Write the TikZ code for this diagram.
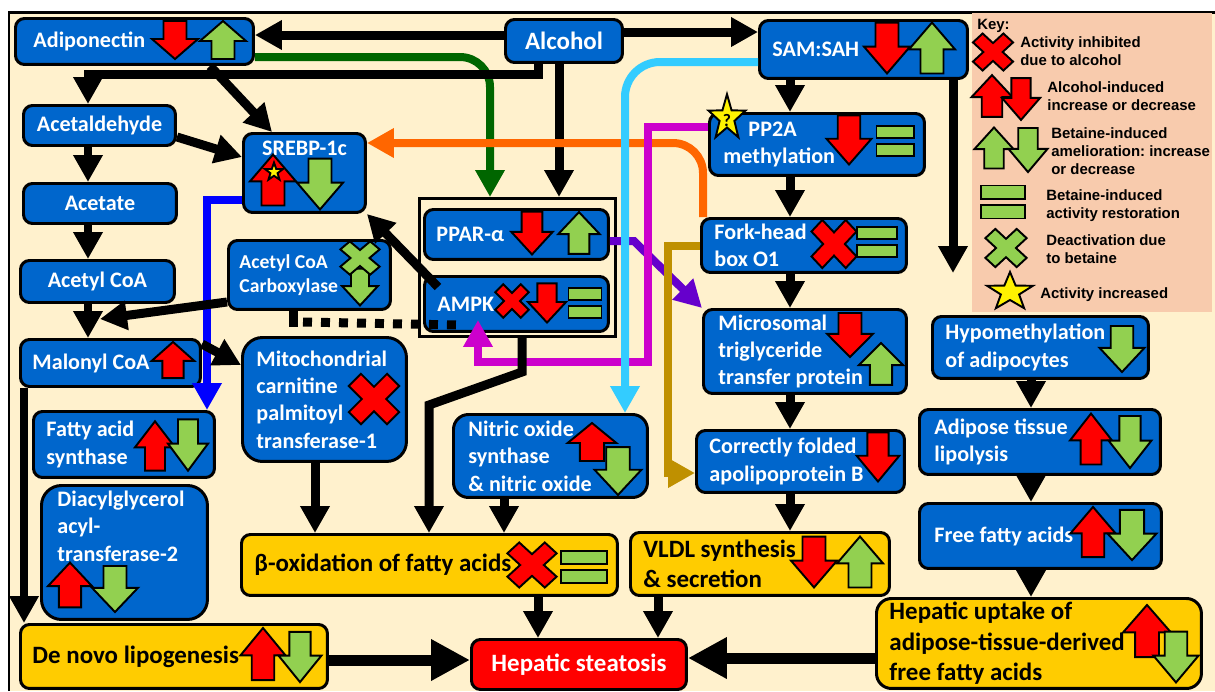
\documentclass[tikz,border=0pt]{standalone}
\usepackage{fontspec}
\usetikzlibrary{arrows.meta,calc}
\newfontfamily\carlito{Carlito}
\newfontfamily\keyface{Liberation Sans}
\frenchspacing
\newcommand\bluefnt{\carlito\bfseries\fontsize{12.6}{15.6}\selectfont}
\newcommand\bigfnt{\carlito\bfseries\fontsize{14.2}{17.4}\selectfont}
\newcommand\accfnt{\carlito\bfseries\fontsize{11.2}{13.6}\selectfont}
\newcommand\keyfnt{\keyface\bfseries\fontsize{8.5}{10.2}\selectfont\frenchspacing}
\definecolor{bgcream}{RGB}{255,241,205}
\definecolor{boxblue}{RGB}{0,102,204}
\definecolor{boxyellow}{RGB}{255,204,0}
\definecolor{keypeach}{RGB}{248,203,173}
\definecolor{ared}{RGB}{255,0,0}
\definecolor{agreen}{RGB}{146,208,80}
\definecolor{lnkgreen}{RGB}{0,102,0}
\definecolor{lnkorange}{RGB}{255,102,0}
\definecolor{lnkcyan}{RGB}{51,204,255}
\definecolor{lnkmagenta}{RGB}{204,0,204}
\definecolor{lnkpurple}{RGB}{102,0,204}
\definecolor{lnkgold}{RGB}{191,144,0}
\definecolor{lnkblue}{RGB}{0,0,255}
\tikzset{
  boxbase/.style={draw=black,line width=1.7pt,rounded corners=0.18cm,anchor=north west,inner ysep=0pt,align=flush left},
  bluebox/.style={boxbase,fill=boxblue,text=white,font=\bluefnt},
  yellowbox/.style={boxbase,fill=boxyellow,text=black,font=\bigfnt},
  redbox/.style={boxbase,fill=ared,text=white,font=\bigfnt},
  keytxt/.style={font=\keyfnt,anchor=west,align=flush left,inner sep=0pt},
  icon/.style={draw=black,line width=1.1pt},
  link/.style={line width=0.18cm,-{Triangle[length=0.54cm,width=0.56cm]}},
  biglink/.style={line width=0.22cm,-{Triangle[length=0.78cm,width=0.78cm]}},
  clink/.style={line width=0.16cm,-{Triangle[length=0.54cm,width=0.56cm]}},
  dotline/.style={line width=0.18cm,dash pattern=on 0.18cm off 0.18cm},
  pics/uparr/.style={code={\draw[icon,fill=#1] (-11.5,19) -- (-11.5,1) -- (-23,1) -- (0,-19) -- (23,1) -- (11.5,1) -- (11.5,19) -- cycle;}},
  pics/dnarr/.style={code={\draw[icon,fill=#1] (-11.5,-19) -- (-11.5,-1) -- (-23,-1) -- (0,19) -- (23,-1) -- (11.5,-1) -- (11.5,-19) -- cycle;}},
  pics/xmark/.style={code={\draw[icon,fill=#1,rotate=45] (-6.5,-20.5) -- (6.5,-20.5) -- (6.5,-6.5) -- (20.5,-6.5) -- (20.5,6.5) -- (6.5,6.5) -- (6.5,20.5) -- (-6.5,20.5) -- (-6.5,6.5) -- (-20.5,6.5) -- (-20.5,-6.5) -- (-6.5,-6.5) -- cycle;}},
  pics/eqbar/.style={code={\draw[icon,fill=agreen] (-17,-13) rectangle (17,-2.5);
    \draw[icon,fill=agreen] (-17,2.5) rectangle (17,13);}},
  pics/starmark/.style={code={\draw[icon,fill=yellow] (-90:20) \foreach \k in {1,...,9} {-- ({-90+36*\k}:{8+12*mod(\k+1,2)})} -- cycle;}}
}
\begin{document}
\begin{tikzpicture}[x=0.02cm,y=-0.02cm]
	\useasboundingbox (0,0) rectangle (1215,691);
	% background and frame
	\fill[bgcream] (9,12) rectangle (1215,691);
	\draw[line width=0.06cm] (9,691) -- (9,12) -- (1215,12);

	% key
	\node[fill=keypeach,minimum width=4.8cm,minimum height=5.98cm,anchor=north west,inner sep=0pt] (keybox) at (972,13) {};
	\node[keytxt] (keyhead) at (977,26) {Key:};
	\node[keytxt] (keyx) at (1020,51) {Activity inhibited\\due to alcohol};
	\node[keytxt] (keyalc) at (1047,96) {Alcohol-induced\\increase or decrease};
	\node[keytxt] (keybet) at (1051,151) {Betaine-induced\\amelioration: increase\\or decrease};
	\node[keytxt] (keyeq) at (1046,206) {Betaine-induced\\activity restoration};
	\node[keytxt] (keydeact) at (1046,249) {Deactivation due\\to betaine};
	\node[keytxt] (keystar) at (1040,295) {Activity increased};
	\pic[xscale=1.05,yscale=0.97] at (993,52) {xmark=ared};
	\pic[xscale=0.89,yscale=1.1] at (992,96) {uparr=ared};
	\pic[xscale=0.83,yscale=1.1] at (1021,99) {dnarr=ared};
	\pic[xscale=0.85,yscale=1.08] at (994,148) {uparr=agreen};
	\pic[xscale=0.85,yscale=1.16] at (1028,150) {dnarr=agreen};
	\pic[xscale=1.32,yscale=1.27] at (1003,202) {eqbar};
	\pic[xscale=1.08] at (1006,248) {xmark=agreen};
	\pic[xscale=1.2] at (1010,292) {starmark};

	% top row
	\node[bluebox,minimum width=4.76cm,minimum height=0.92cm,inner xsep=0.36cm,text width=4.04cm] (adipo) at (14,17) {Adiponectin};
	\node[bluebox,font=\bigfnt,minimum width=2.34cm,minimum height=0.86cm] (alcohol) at (504,18) {Alcohol};
	\node[bluebox,minimum width=4.16cm,minimum height=1.16cm,inner xsep=0.26cm,text width=3.64cm] (samsah) at (758,19) {SAM:SAH};
	\pic at (175,40) {dnarr=ared};
	\pic at (223,40) {uparr=agreen};
	\pic[yscale=1.34] at (887,48) {dnarr=ared};
	\pic[yscale=1.34] at (932,48) {uparr=agreen};

	% left column
	\node[bluebox,minimum width=3.04cm,minimum height=0.8cm] (acetald) at (22,104) {Acetaldehyde};
	\node[bluebox,minimum width=3.06cm,minimum height=0.8cm] (acetate) at (22,182) {Acetate};
	\node[bluebox,minimum width=3.08cm,minimum height=0.84cm] (acetylcoa) at (19,259) {Acetyl CoA};
	\node[bluebox,minimum width=3.6cm,minimum height=0.94cm,inner xsep=0.24cm,text width=3.12cm] (malonyl) at (19,338) {Malonyl CoA};
	\node[bluebox,minimum width=3.62cm,minimum height=1.32cm,inner xsep=0.26cm,text width=3.1cm] (fas) at (32,410) {Fatty acid\\synthase};
	\node[bluebox,rounded corners=0.4cm,minimum width=3.32cm,minimum height=2.68cm,inner xsep=0.32cm,text width=2.68cm,text height=0.34cm,text depth=2.18cm] (dgat) at (40,484) {Diacylglycerol\\acyl-\\transferase-2};
	\node[yellowbox,minimum width=6.14cm,minimum height=1.28cm,inner xsep=0.24cm,text width=5.66cm] (denovo) at (19,623) {De novo lipogenesis};
	\pic[xscale=0.93,yscale=0.95] at (173,360) {uparr=ared};
	\pic[xscale=0.87,yscale=1.3] at (155,446) {uparr=ared};
	\pic[xscale=0.87,yscale=1.35] at (188,445) {dnarr=agreen};
	\pic[xscale=0.96,yscale=1.18] at (70,585) {uparr=ared};
	\pic[yscale=1.21] at (115,589) {dnarr=agreen};
	\pic[xscale=0.98,yscale=1.37] at (263,654) {uparr=ared};
	\pic[xscale=0.93,yscale=1.32] at (300,657) {dnarr=agreen};

	% middle
	\node[bluebox,minimum width=2.44cm,minimum height=1.58cm,text height=0.34cm,text depth=1.04cm] (srebp) at (242,132) {SREBP-1c};
	\pic[yscale=1.34] at (273,180) {uparr=ared};
	\pic[scale=0.47] at (274,172) {starmark};
	\pic[yscale=1.34] at (320,184) {dnarr=agreen};
	\node[bluebox,font=\accfnt,minimum width=3.24cm,minimum height=1.38cm,inner xsep=0.22cm,text width=2.8cm] (acc) at (227,239) {Acetyl CoA\\Carboxylase};
	\pic[xscale=0.78,yscale=0.97] at (360,287) {dnarr=agreen};
	\pic[xscale=1.03,yscale=0.87] at (360,258) {xmark=agreen};
	\node[draw,line width=0.06cm,minimum width=3.92cm,minimum height=2.76cm,anchor=north west,inner sep=0pt] (ppargrp) at (418,197) {};
	\node[bluebox,minimum width=3.68cm,minimum height=1cm,inner xsep=0.24cm,text width=3.2cm] (ppar) at (423,208) {PPAR-α};
	\node[bluebox,minimum width=3.68cm,minimum height=1.1cm,inner xsep=0.26cm,text width=3.16cm] (ampk) at (423,275) {AMPK};
	\pic[xscale=0.9,yscale=1.13] at (532,233) {dnarr=ared};
	\pic[xscale=0.9,yscale=1.1] at (579,233) {uparr=agreen};
	\pic[scale=0.88] at (512,301) {xmark=ared};
	\pic[xscale=0.83,yscale=1.03] at (547,303) {dnarr=ared};
	\pic[xscale=0.97,yscale=1.15] at (585,303) {eqbar};
	\node[bluebox,rounded corners=0.4cm,minimum width=3.28cm,minimum height=2.48cm,inner xsep=0.28cm,text width=2.72cm] (mito) at (241,336) {Mitochondrial\\carnitine\\palmitoyl\\transferase-1};
	\pic[scale=1.32] at (374,399) {xmark=ared};
	\node[bluebox,rounded corners=0.3cm,minimum width=3.88cm,minimum height=1.66cm,inner xsep=0.3cm,text width=3.28cm] (nos) at (452,413) {Nitric oxide\\synthase\\\& nitric oxide};
	\pic[xscale=1.06] at (592,442) {uparr=ared};
	\pic[xscale=1.02,yscale=1.26] at (618,471) {dnarr=agreen};
	\node[yellowbox,minimum width=7.52cm,minimum height=1.22cm,inner xsep=0.26cm,text width=7cm] (betaox) at (240,533) {β-oxidation of fatty acids};
	\pic[xscale=1.29,yscale=1.18] at (532,565) {xmark=ared};
	\pic[xscale=1.35,yscale=1.23] at (584,567) {eqbar};
	\node[redbox,minimum width=4.3cm,minimum height=1cm] (steatosis) at (470,638) {Hepatic steatosis};

	% SAM:SAH column
	\node[bluebox,minimum width=4.3cm,minimum height=1.24cm,inner xsep=0.28cm,text width=3.74cm] (pp2a) at (708,112) {\hspace*{0.5cm}PP2A\\methylation};
	\pic[xscale=0.97,yscale=1.19] at (727,118) {starmark};
	\node[font=\carlito\bfseries\fontsize{10}{10}\selectfont,inner sep=0pt] (qmark) at (727,120) {?};
	\pic[xscale=0.98,yscale=1.29] at (849,140) {dnarr=ared};
	\pic[xscale=1.09,yscale=1.15] at (895,141) {eqbar};
	\node[bluebox,minimum width=4.1cm,minimum height=1.08cm,inner xsep=0.26cm,text width=3.58cm] (forkhead) at (700,217) {Fork-head\\box O1};
	\pic[xscale=1.18,yscale=1.26] at (834,244) {xmark=ared};
	\pic[xscale=1.15,yscale=1.15] at (877,242) {eqbar};
	\node[bluebox,minimum width=4.06cm,minimum height=1.68cm,inner xsep=0.3cm,text width=3.46cm] (mttp) at (702,308) {Microsomal\\triglyceride\\transfer protein};
	\pic[yscale=1.16] at (850,335) {dnarr=ared};
	\pic[xscale=0.96,yscale=1.1] at (881,364) {uparr=agreen};
	\node[bluebox,minimum width=4.16cm,minimum height=1.24cm,inner xsep=0.26cm,text width=3.64cm] (apob) at (695,429) {Correctly folded\\apolipoprotein B};
	\pic[xscale=0.93,yscale=1.29] at (878,457) {dnarr=ared};
	\node[yellowbox,minimum width=5.18cm,minimum height=1.26cm,inner xsep=0.26cm,text width=4.66cm] (vldl) at (629,531) {VLDL synthesis\\\& secretion};
	\pic[yscale=1.34] at (814,562) {dnarr=ared};
	\pic[yscale=1.34] at (860,562) {uparr=agreen};

	% adipose column
	\node[bluebox,minimum width=4.32cm,minimum height=1.24cm,inner xsep=0.26cm,text width=3.8cm] (hypometh) at (931,315) {Hypomethylation\\of adipocytes};
	\pic[xscale=0.98,yscale=1.21] at (1122,349) {dnarr=agreen};
	\node[bluebox,minimum width=4.82cm,minimum height=1.3cm,inner xsep=0.3cm,text width=4.22cm] (lipol) at (918,408) {Adipose tissue\\lipolysis};
	\pic[xscale=0.91,yscale=1.34] at (1091,439) {uparr=ared};
	\pic[xscale=0.93,yscale=1.37] at (1130,442) {dnarr=agreen};
	\node[bluebox,minimum width=4.84cm,minimum height=1.3cm,inner xsep=0.3cm,text width=4.24cm] (ffa) at (918,502) {Free fatty acids};
	\pic[xscale=0.98,yscale=1.32] at (1093,532) {uparr=ared};
	\pic[xscale=1.06,yscale=1.32] at (1132,535) {dnarr=agreen};
	\node[yellowbox,rounded corners=0.3cm,minimum width=6.5cm,minimum height=1.8cm,inner xsep=0.26cm,text width=5.98cm] (uptake) at (875,597) {Hepatic uptake of\\adipose-tissue-derived\\free fatty acids};
	\pic[xscale=1.04,yscale=1.37] at (1147,631) {uparr=ared};
	\pic[xscale=0.98,yscale=1.34] at (1176,657) {dnarr=agreen};

	% free ends
	\coordinate (malin) at (100,319);
	\coordinate (hypoend) at (953,273);
	\coordinate (ampkin) at ($(ampk.north west)+(15,12)$);
	\coordinate (ampkdot) at ($(ampk.south west)+(33,-8)$);
	\coordinate (ampkmag) at ($(ampk.south west)+(55,-13)$);

	% coloured links under the black ones
	\draw[clink,lnkgreen,rounded corners=0.6cm] (adipo.east |- 0,57) -- (490,57) -- (490,0 |- ppargrp.north);
	\draw[clink,lnkblue] (srebp.west |- 0,200) -- (207,200) -- (207,0 |- fas.north);

	% black links
	\draw[link] (alcohol.west |- 0,35) -- (adipo.east |- 0,35);
	\draw[link] (alcohol.east |- 0,32) -- (samsah.west |- 0,32);
	\draw[link] (538,0 |- alcohol.south) -- (538,74) -| (88,0 |- acetald.north);
	\draw[link] (559,0 |- alcohol.south) -- (559,0 |- ppargrp.north);
	\draw[link] (210,0 |- adipo.south) -- (272,0 |- srebp.north);
	\draw[link] (acetald.east |- 0,137) -- (srebp.west |- 0,157);
	\draw[link] (ampkin) -- (srebp.south east);
	\draw[link] (88,0 |- acetald.south) -- (88,0 |- acetate.north);
	\draw[link] (88,0 |- acetate.south) -- (88,0 |- acetylcoa.north);
	\draw[link] (88,0 |- acetylcoa.south) -- (88,0 |- malonyl.north);
	\draw[link] (acc.west |- 0,302) -- (malin);
	\draw[link] (malonyl.east |- 0,344) -- (mito.west |- 0,365);
	\draw[link] (24,0 |- malonyl.south) -- (24,0 |- denovo.north);
	\draw[line width=0.18cm] (293,0 |- acc.south) -- (293,327);
	\draw[dotline] (303,322) -- (ampkdot);
	\draw[link] (315,0 |- mito.south) -- (315,0 |- betaox.north);
	\draw[link] (504,0 |- nos.south) -- (504,0 |- betaox.north);
	\draw[link] (538,0 |- betaox.south) -- (538,0 |- steatosis.north);
	\draw[link] (658,0 |- vldl.south) -- (658,0 |- steatosis.north);
	\draw[biglink] (denovo.east |- 0,660) -- (steatosis.west |- 0,660);
	\draw[biglink] (uptake.west |- 0,658) -- (steatosis.east |- 0,658);
	\draw[link] (790,0 |- samsah.south) -- (790,0 |- pp2a.north);
	\draw[link] (790,0 |- pp2a.south) -- (790,0 |- forkhead.north);
	\draw[link] (790,0 |- forkhead.south) -- (790,0 |- mttp.north);
	\draw[link] (790,0 |- mttp.south) -- (790,0 |- apob.north);
	\draw[link] (790,0 |- apob.south) -- (790,0 |- vldl.north);
	\draw[link] (953,0 |- samsah.south) -- (hypoend);
	\draw[link] (1031,0 |- hypometh.south) -- (1031,0 |- lipol.north);
	\draw[link] (1031,0 |- lipol.south) -- (1031,0 |- ffa.north);
	\draw[link] (1031,0 |- ffa.south) -- (1031,0 |- uptake.north);

	% coloured links
	\draw[clink,lnkorange,rounded corners=0.6cm] (703,0 |- forkhead.north) -- (703,143) -- (srebp.east |- 0,143);
	\draw[clink,lnkpurple] (ppar.east |- 0,241) -- (634,241) -- (mttp.north west);
	\draw[clink,lnkmagenta] (pp2a.west |- 0,127) -- (648,127) -- (648,362) -- (478,362) -- (ampkmag);
	\draw[clink,lnkcyan,rounded corners=0.7cm] (samsah.west |- 0,62) -- (625,62) -- (625,0 |- nos.north);
	\draw[clink,lnkgold] (forkhead.west |- 0,246) -- (668,246) -- (668,473) -- (apob.west |- 0,473);
	\draw[link] (522,0 |- ppargrp.south) -- (522,372) -- (429,405) -- (429,0 |- betaox.north);
\end{tikzpicture}
\end{document}
